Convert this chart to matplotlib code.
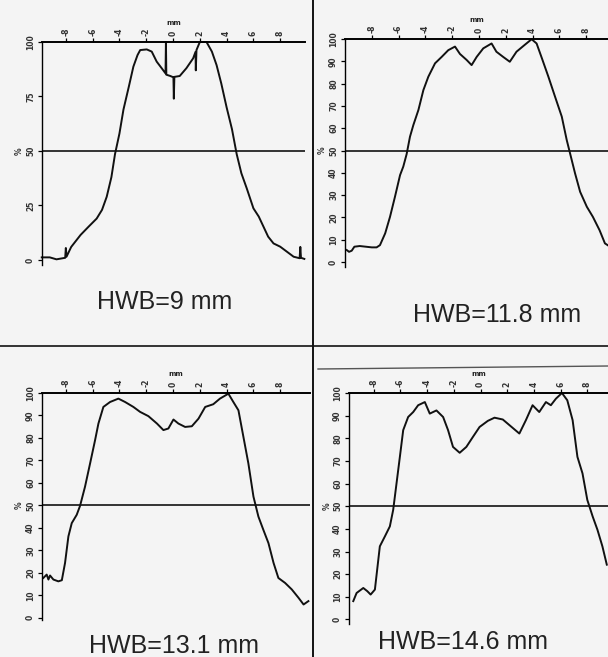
import matplotlib
matplotlib.use("Agg")
import matplotlib.pyplot as plt
from matplotlib import font_manager
from matplotlib.lines import Line2D

# profile 1 (HWB=9 mm)
p1_x = [-9.8, -9.55, -9.2, -8.7, -8.05, -8.0, -7.95, -7.6, -6.9, -6.3, -5.7, -5.3, -4.95, -4.6,
        -4.33, -4.0, -3.7, -3.3, -2.96, -2.65, -2.45, -1.96, -1.59, -1.22, -0.85, -0.56, -0.53,
        -0.5, -0.2, 0.03, 0.06, 0.1, 0.5, 1.0, 1.5, 1.68, 1.7, 1.75, 2.0, 2.5, 2.9, 3.25, 3.6,
        4.0, 4.4, 4.75, 5.1, 5.5, 6.0, 6.4, 6.75, 7.1, 7.5, 8.0, 8.5, 9.0, 9.45, 9.5, 9.55, 9.8]
p1_y = [1.2, 1.2, 1.2, 0.3, 1.0, 5.5, 1.5, 6.0, 11.5, 15.3, 19.0, 23.0, 29.0, 38.0,
        48.6, 58.0, 69.0, 79.5, 88.7, 94.0, 96.3, 96.6, 95.6, 91.0, 88.0, 85.6, 100.0,
        85.0, 84.4, 83.8, 74.0, 84.0, 84.4, 88.0, 92.5, 95.5, 87.0, 96.3, 100.0, 100.0, 95.6, 89.4, 81.0,
        70.0, 60.0, 48.6, 39.8, 32.9, 23.7, 19.9, 15.3, 10.7, 7.6, 6.1, 3.8, 1.5, 0.8, 6.0, 1.0, 0.5]

# profile 2 (HWB=11.8 mm)
p2_x = [-9.87, -9.7, -9.5, -9.3, -8.9, -8.0, -7.64, -7.39, -7.0, -6.64, -6.27, -5.89, -5.65,
        -5.4, -5.15, -4.9, -4.52, -4.15, -3.78, -3.28, -2.78, -2.29, -1.79, -1.42, -0.92, -0.55,
        -0.17, 0.32, 0.94, 1.3, 1.8, 2.3, 2.8, 3.4, 3.93, 4.3, 4.7, 5.18, 5.68, 6.18, 6.55, 6.8,
        7.17, 7.55, 8.05, 8.5, 9.0, 9.4, 9.6]
p2_y = [5.4, 4.6, 5.1, 6.9, 7.2, 6.6, 6.6, 7.6, 12.9, 20.3, 29.3, 39.0, 42.8,
        48.4, 56.2, 61.4, 68.2, 77.1, 83.1, 89.1, 92.0, 95.0, 96.6, 93.3, 90.6, 88.3,
        92.0, 95.8, 98.0, 94.3, 92.0, 89.8, 94.3, 97.3, 99.9, 98.0, 91.3, 83.1, 74.1, 65.2, 54.7, 48.7,
        39.8, 31.5, 24.8, 20.3, 14.3, 8.4, 7.6]

# profile 3 (HWB=13.1 mm)
p3_x = [-9.68, -9.43, -9.3, -9.18, -8.93, -8.56, -8.3, -8.06, -7.81, -7.56, -7.19, -6.94, -6.57,
        -6.19, -5.82, -5.57, -5.2, -4.7, -4.08, -3.58, -2.96, -2.46, -1.84, -1.2, -0.72, -0.35,
        0.03, 0.4, 0.9, 1.4, 1.9, 2.4, 3.0, 3.5, 4.13, 4.5, 4.88, 5.25, 5.62, 6.0, 6.37, 6.74,
        7.12, 7.5, 7.86, 8.36, 8.86, 9.36, 9.74, 10.1]
p3_y = [17.7, 19.2, 17.0, 18.8, 17.0, 16.2, 16.7, 24.4, 36.2, 42.1, 45.8, 49.8, 58.3,
        68.7, 79.0, 86.4, 93.8, 96.0, 97.5, 96.0, 93.8, 91.6, 89.7, 86.4, 83.5, 84.2,
        88.2, 86.4, 84.9, 85.2, 88.6, 93.8, 95.0, 97.5, 99.7, 96.0, 92.3, 80.5, 68.7, 53.9, 45.0, 39.1,
        33.2, 24.4, 17.7, 15.5, 12.6, 8.9, 5.9, 7.4]

# profile 4 (HWB=14.6 mm)
p4_x = [-9.53, -9.28, -8.78, -8.48, -8.23, -7.91, -7.54, -7.16, -6.79, -6.54, -6.29, -6.04, -5.79,
        -5.42, -5.04, -4.67, -4.17, -3.8, -3.3, -2.8, -2.43, -2.06, -1.56, -1.06, -0.57, -0.07,
        0.55, 1.05, 1.67, 2.17, 2.91, 3.4, 3.9, 4.4, 4.9, 5.27, 5.65, 6.1, 6.5, 6.9, 7.26, 7.64,
        8.0, 8.4, 8.76, 9.13, 9.46]
p4_y = [8.1, 11.7, 13.9, 12.5, 11.0, 13.2, 32.3, 36.7, 41.1, 48.4, 60.1, 71.8, 83.6,
        89.4, 91.6, 94.6, 96.0, 90.9, 92.3, 89.4, 83.6, 76.2, 73.6, 76.2, 80.6, 85.0,
        87.7, 89.1, 88.3, 85.8, 82.1, 88.0, 94.6, 91.6, 96.0, 94.6, 97.5, 100.0, 96.8, 88.0, 71.8, 64.5,
        52.8, 45.5, 39.6, 32.3, 24.2]

captions = ["HWB=9 mm", "HWB=11.8 mm", "HWB=13.1 mm", "HWB=14.6 mm"]
x_ticks = [-8, -6, -4, -2, 0, 2, 4, 6, 8]
y_ticks_coarse = [0, 25, 50, 75, 100]
y_ticks_fine = [0, 10, 20, 30, 40, 50, 60, 70, 80, 90, 100]

W, H = 608, 657
fig = plt.figure(figsize=(W / 100, H / 100), dpi=100, facecolor="#f4f4f4")


def add_panel(box, xlim, ylim, xs, ys, yticks):
    left, top, right, bottom = box
    ax = fig.add_axes([left / W, 1 - bottom / H, (right - left) / W, (bottom - top) / H])
    ax.set_facecolor("none")
    ax.plot(xs, ys, color="#111111", lw=1.4, clip_on=False)
    ax.axhline(50, color="#111111", lw=1.2)
    ax.set_xlim(*xlim)
    ax.set_ylim(*ylim)
    for s in ["right", "bottom"]:
        ax.spines[s].set_visible(False)
    ax.spines["top"].set_linewidth(1.4)
    ax.spines["left"].set_linewidth(1.0)
    ax.xaxis.tick_top()
    ax.xaxis.set_label_position("top")
    ax.set_xticks(x_ticks)
    ax.set_xticklabels([str(t) for t in x_ticks], rotation=90, fontsize=5.5,
                       color="#333333", fontweight="bold")
    ax.set_yticks(yticks)
    ax.set_yticklabels([str(t) for t in yticks], rotation=90, fontsize=5.5,
                       color="#333333", va="center", fontweight="bold")
    ax.tick_params(axis="x", length=3, width=0.9, pad=1)
    ax.tick_params(axis="y", length=3, width=0.9, pad=2)
    ax.set_xlabel("mm", fontsize=5, fontweight="bold", labelpad=2, color="#222222")
    ax.text(-0.085, 50, "%", transform=ax.get_yaxis_transform(), rotation=90,
            fontsize=5.5, va="center", ha="center", color="#333333", fontweight="bold")
    return ax


add_panel((42, 42, 305, 265), (-9.78, 9.85), (-2.3, 100), p1_x, p1_y, y_ticks_coarse)
add_panel((345, 39, 608, 267), (-10.0, 9.63), (-2.2, 100), p2_x, p2_y, y_ticks_fine)
add_panel((42, 393, 310, 620), (-9.78, 10.22), (-1.0, 100), p3_x, p3_y, y_ticks_fine)
add_panel((349, 393, 608, 624), (-9.85, 9.55), (-2.0, 100), p4_x, p4_y, y_ticks_fine)

# panel divider lines of the scanned sheet
fig.add_artist(Line2D([313 / W, 313 / W], [0, 1], color="#111111", lw=1.4))
fig.add_artist(Line2D([0, 1], [1 - 346 / H, 1 - 346 / H], color="#111111", lw=1.2))
fig.add_artist(Line2D([318 / W, 1], [1 - 369 / H, 1 - 366 / H], color="#555555", lw=1.0))

names = {f.name for f in font_manager.fontManager.ttflist}
if "Liberation Sans Narrow" in names:
    cap_font, cap_size = "Liberation Sans Narrow", 22
else:
    cap_font, cap_size = "Liberation Sans", 18

cap_pos = [(165, 302), (497, 315), (174, 646), (463, 642)]
for (cx, cy), txt in zip(cap_pos, captions):
    fig.text(cx / W, 1 - cy / H, txt, ha="center", va="center",
             fontsize=cap_size, family=cap_font, color="#222222")

fig.savefig("out.png", dpi=100, facecolor=fig.get_facecolor())
